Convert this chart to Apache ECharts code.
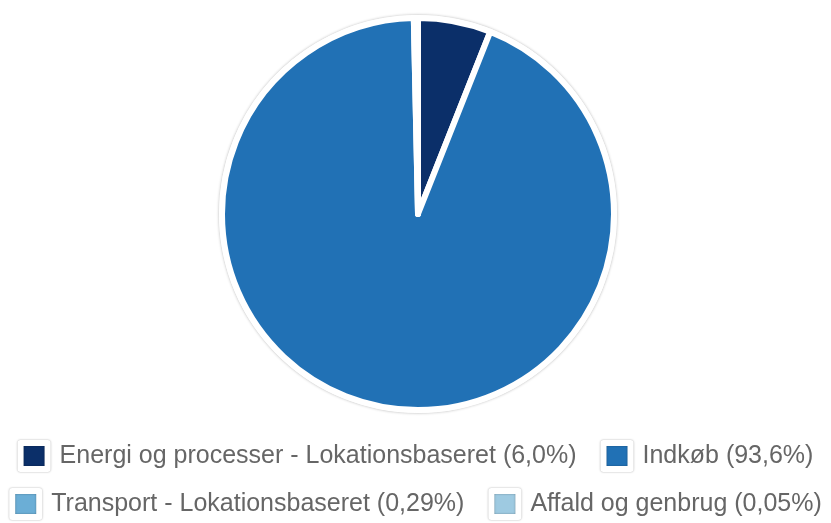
<!DOCTYPE html>
<html lang="da">
<head>
    <meta charset="UTF-8">
    <title>Pie</title>
    <script src="https://cdn.jsdelivr.net/npm/echarts@6/dist/echarts.min.js"></script>
    <style>
        * {
            margin: 0;
            padding: 0
        }

        html, body {
            width: 100%;
            height: 100%;
            background: #fff;
        }

        #main {
            width: 831px;
            height: 523px;
        }
    </style>
</head>
<body>
<div id="main"></div>
<script type="text/javascript">
    var categories = ['Energi og processer - Lokationsbaseret', 'Indkøb', 'Transport - Lokationsbaseret', 'Affald og genbrug'];
    var values = [6.0, 93.6, 0.29, 0.05];
    var pctLabels = ['6,0%', '93,6%', '0,29%', '0,05%'];
    var colors = ['#0b2f69', '#2171b5', '#6baed6', '#9ecae1'];

    var pieData = categories.map(function (name, i) {
        return {name: name, value: values[i], itemStyle: {color: colors[i]}};
    });

    // legend shared style
    function makeLegend(names, top) {
        return {
            data: names,
            top: top,
            left: 'center',
            orient: 'horizontal',
            icon: 'rect',
            itemWidth: 27,
            itemHeight: 26,
            itemGap: 24,
            selectedMode: false,
            itemStyle: {
                borderColor: '#fff',
                borderWidth: 6,
                shadowBlur: 2,
                shadowColor: 'rgba(0, 0, 0, 0.35)'
            },
            textStyle: {
                fontFamily: 'Liberation Sans, Arial, sans-serif',
                fontSize: 25,
                color: '#666',
                padding: [0, 0, 0, 7]
            },
            formatter: function (name) {
                var i = categories.indexOf(name);
                return name + ' (' + pctLabels[i] + ')';
            }
        };
    }

    var myChart = echarts.init(document.getElementById('main'));
    myChart.setOption({
        animation: false,
        legend: [
            makeLegend(categories.slice(0, 2), 435),
            makeLegend(categories.slice(2, 4), 483)
        ],
        series: [
            {
                // white disc underneath, gives the faint outer ring
                type: 'pie',
                silent: true,
                center: [418, 214],
                radius: 199,
                z: 1,
                label: {show: false},
                labelLine: {show: false},
                itemStyle: {
                    color: '#fff',
                    shadowBlur: 3,
                    shadowColor: 'rgba(0, 0, 0, 0.3)'
                },
                data: [{name: 'bg', value: 1}]
            },
            {
                name: 'Udledning',
                type: 'pie',
                center: [418, 214],
                radius: 196,
                startAngle: 90,
                clockwise: true,
                z: 2,
                label: {show: false},
                labelLine: {show: false},
                emphasis: {scale: false},
                itemStyle: {
                    borderColor: '#fff',
                    borderWidth: 6
                },
                data: pieData
            }
        ]
    });
</script>
</body>
</html>
